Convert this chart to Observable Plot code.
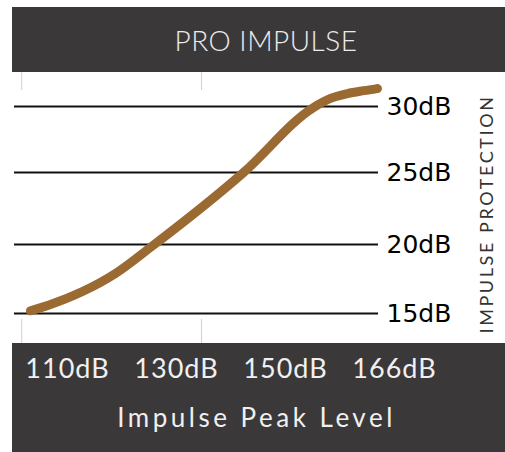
<!DOCTYPE html>
<html>
<head>
<meta charset="utf-8">
<script src="https://cdn.jsdelivr.net/npm/d3@7"></script>
<script src="https://cdn.jsdelivr.net/npm/@observablehq/plot@0.6"></script>
<style>
  html, body { margin: 0; padding: 0; background: #fff; }
  #wrap { position: absolute; left: 12px; top: 7px; width: 493px; }
  #title {
    height: 65px; background: #3b383a; color: #ececec;
    font-family: Lato, sans-serif; font-size: 28px; font-weight: 300;
    display: flex; align-items: center; justify-content: center;
    padding-left: 15px; box-sizing: border-box; letter-spacing: 0.5px;
  }
  #chart svg { display: block; }
</style>
</head>
<body>
<div id="wrap">
  <div id="title"></div>
  <div id="chart"></div>
</div>
<script>
// Data
const titleText = "PRO IMPULSE";
const xTickValues = [110, 130, 150, 166];
const yTickValues = [15, 20, 25, 30];
const xLabel = "Impulse Peak Level";
const yLabel = "IMPULSE PROTECTION";
const xGuides = [101.6, 134.6];
const peakLevel = [103.2, 106.5, 112.75, 118.8, 125.2, 142.3, 154.1, 156.6, 159.1, 161.5, 163.5];
const protection = [15.2, 15.6, 16.59, 17.9, 19.78, 25.0, 29.92, 30.61, 30.98, 31.2, 31.36];

document.getElementById("title").textContent = titleText;
const curve = peakLevel.map((x, i) => ({x, y: protection[i]}));

const band = "#3b383a";
const W = 493, H = 380, MB = 109;

const plot = Plot.plot({
  width: W,
  height: H,
  marginTop: 0,
  marginLeft: 2,
  marginRight: 127,
  marginBottom: MB,
  style: {
    background: `linear-gradient(to bottom, #ffffff ${H - MB}px, ${band} ${H - MB}px)`,
    overflow: "visible"
  },
  x: {type: "linear", domain: xTickValues, range: [55, 164, 273, 382]},
  y: {type: "linear", domain: yTickValues, range: [241, 172, 100, 34]},
  marks: [
    Plot.ruleX(xGuides, {stroke: "#cfcfcf", strokeWidth: 1, insetBottom: 253}),
    Plot.ruleX(xGuides, {stroke: "#cfcfcf", strokeWidth: 1, insetTop: 247}),
    Plot.ruleY(yTickValues, {stroke: "#111", strokeWidth: 2}),
    Plot.line(curve, {x: "x", y: "y", stroke: "#9a6a32", strokeWidth: 9,
      strokeLinecap: "round", strokeLinejoin: "round", curve: "monotone-x"}),
    Plot.axisX({ticks: xTickValues, tickFormat: d => d + "dB", tickSize: 0, tickPadding: 15,
      fontSize: 27, fontFamily: "Lato, sans-serif", fill: "#f0f0f0", label: null}),
    Plot.axisY({anchor: "right", ticks: yTickValues, tickFormat: d => d + "dB", tickSize: 0, tickPadding: 8,
      fontSize: 25, fontFamily: "DejaVu Sans, sans-serif", fill: "#000", label: null}),
    Plot.text([xLabel], {frameAnchor: "bottom", dx: 60, dy: 75, lineAnchor: "middle", textAnchor: "middle",
      fontSize: 26, fontFamily: "Lato, sans-serif", fill: "#f0f0f0", text: d => d}),
    Plot.text([yLabel], {frameAnchor: "right", dx: 109, dy: 6, rotate: -90, textAnchor: "middle",
      fontSize: 18, fontFamily: "Lato, sans-serif", fill: "#333", text: d => d})
  ]
});
d3.select(plot).selectAll("text").each(function() {
  const t = this.textContent;
  if (t === xLabel) this.style.letterSpacing = "3.5px";
  else if (t === yLabel) this.style.letterSpacing = "2.6px";
  else if (/^1\d\ddB$/.test(t)) this.style.letterSpacing = "1px";
});
document.getElementById("chart").appendChild(plot);
</script>
</body>
</html>
